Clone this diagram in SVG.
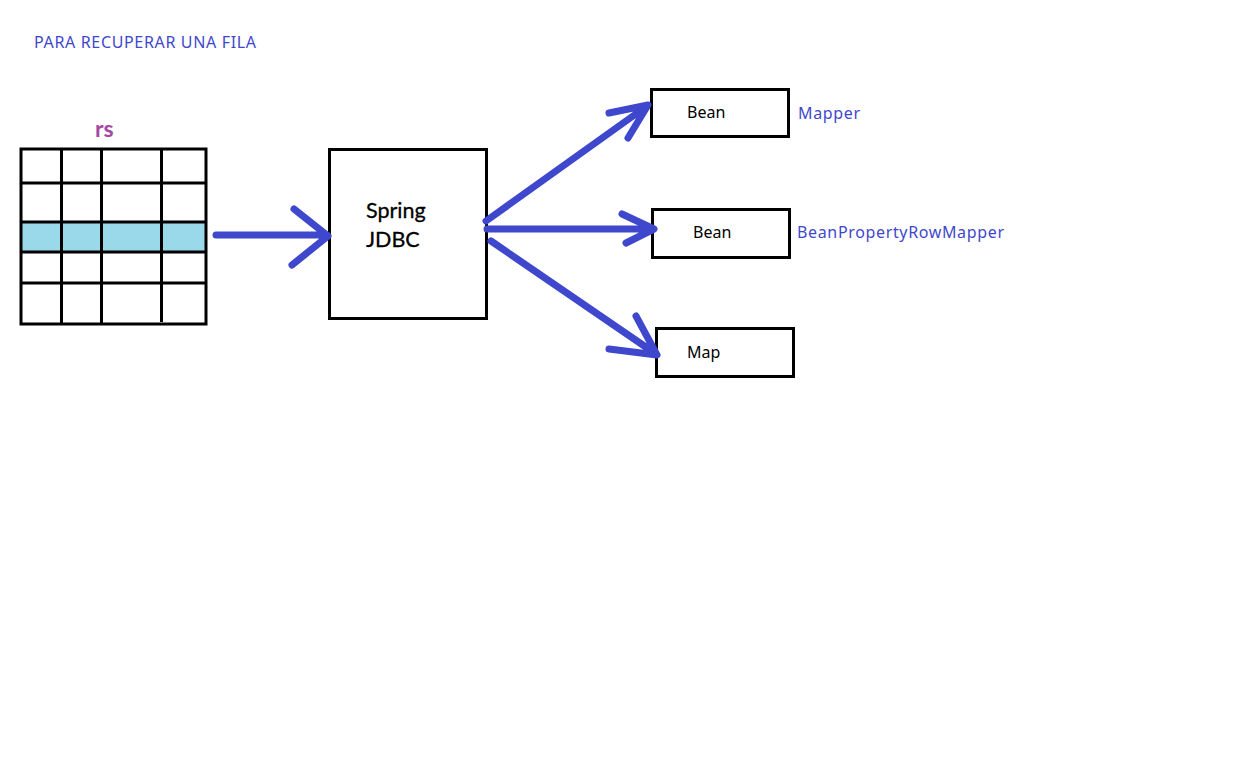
<svg xmlns="http://www.w3.org/2000/svg" width="1248" height="773" viewBox="0 0 1248 773">
<style>
.box{fill:#fff;stroke:#000;stroke-width:3}
.grid{stroke:#000;stroke-width:3;fill:none}
.arr{stroke:#3F48CC;stroke-width:7;fill:none;stroke-linecap:round;stroke-linejoin:round}
.lbl{font-family:"Noto Sans","Open Sans",sans-serif;font-size:16px;fill:#000}
.blue{font-family:"Noto Sans","Open Sans",sans-serif;font-size:16px;fill:#3F48CC}
.big{font-family:Lato,"Noto Sans",sans-serif;font-size:21.5px;fill:#000;stroke:#000;stroke-width:0.3}
</style>
<rect width="1248" height="773" fill="#fff"/>
<text class="blue" x="34" y="48" font-size="15" textLength="222">PARA RECUPERAR UNA FILA</text>
<g id="rs">
<text x="95" y="137" font-family="Lato,'Noto Sans',sans-serif" font-size="23" font-weight="bold" fill="#A349A4">rs</text>
<rect x="21" y="222" width="185" height="30" fill="#99D9EA"/>
<rect class="grid" x="21" y="149" width="185" height="175"/>
<path class="grid" d="M21 183H206M21 222H206M21 252H206M21 283H206M61.5 149V324M101.5 149V324M161.5 149V322"/>
</g>
<g id="spring">
<rect class="box" x="329.5" y="149.5" width="157" height="169"/>
<text class="big" x="366" y="218">Spring</text>
<text class="big" x="366" y="247">JDBC</text>
</g>
<g id="bean1">
<rect class="box" x="651.5" y="89.5" width="137" height="47"/>
<text class="lbl" x="687" y="118">Bean</text>
<text class="blue" x="798" y="119" textLength="62">Mapper</text>
</g>
<g id="bean2">
<rect class="box" x="652.5" y="209.5" width="137" height="48"/>
<text class="lbl" x="693" y="238">Bean</text>
<text class="blue" x="797" y="238" textLength="207">BeanPropertyRowMapper</text>
</g>
<g id="map">
<rect class="box" x="656.5" y="328.5" width="137" height="48"/>
<text class="lbl" x="687" y="358">Map</text>
</g>
<g id="connectors">
<path class="arr" d="M216 235H327M294 209L328 236L292 265"/>
<path class="arr" d="M486 221L647 106M609 113L648 105L628 138"/>
<path class="arr" d="M487 229H653M622 214L654 229L626 243"/>
<path class="arr" d="M491 241L656 354M636 316L657 355L609 349"/>
</g>
</svg>
